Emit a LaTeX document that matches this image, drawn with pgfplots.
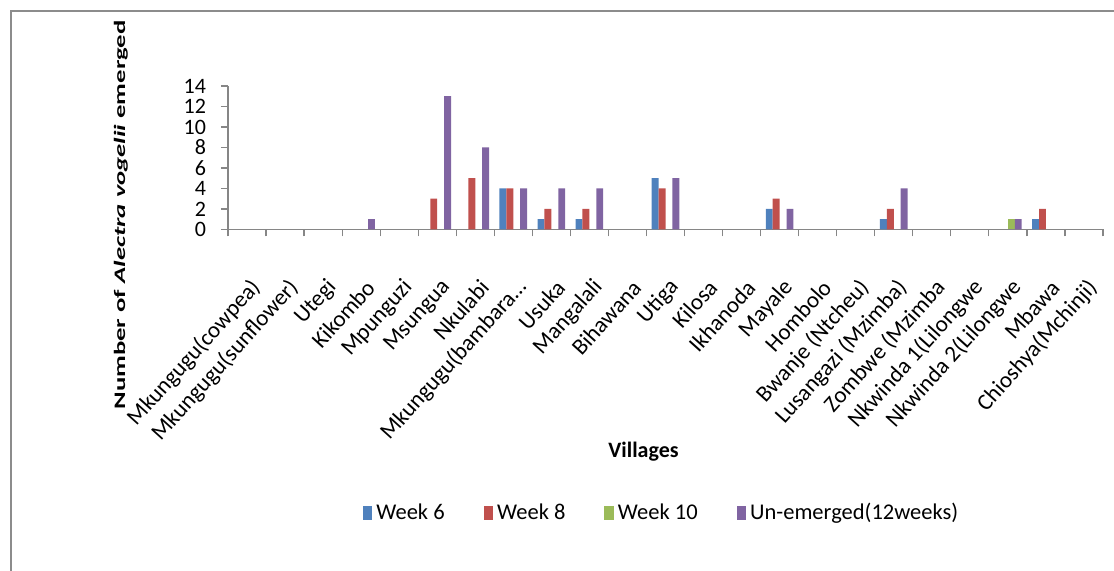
\documentclass[border=0pt]{standalone}
\usepackage{pgfplots}
\pgfplotsset{compat=1.18}
\usepackage{fontspec}
\setmainfont{Carlito}
\usepackage{graphicx}
\definecolor{cA}{HTML}{4F81BD}
\definecolor{cB}{HTML}{C0504D}
\definecolor{cC}{HTML}{9BBB59}
\definecolor{cD}{HTML}{8064A2}
\definecolor{axgray}{HTML}{868686}
\definecolor{framegray}{HTML}{8C8C8C}
\begin{document}
\begin{tikzpicture}
\path[use as bounding box] (0,0) rectangle (557pt,285.5pt);
\draw[framegray, line width=1pt] (5.5pt,0pt) -- (5.5pt,280pt) -- (557pt,280pt);
\begin{axis}[
  at={(114pt,170.75pt)}, anchor=south west,
  scale only axis, width=437.5pt, height=71.75pt,
  xmin=-0.5, xmax=22.5, ymin=0, ymax=14,
  enlargelimits=false,
  ybar=0pt, bar width=3.458pt,
  axis lines=left,
  axis line style={-, draw=axgray, line width=0.6pt},
  tick align=outside,
  xtick={0,...,22},
  xticklabels={Mkungugu(cowpea),Mkungugu(sunflower),Utegi,Kikombo,Mpunguzi,Msungua,Nkulabi,Mkungugu(bambara\ldots,Usuka,Mangalali,Bihawana,Utiga,Kilosa,Ikhanoda,Mayale,Hombolo,Bwanje (Ntcheu),Lusangazi (Mzimba),Zombwe (Mzimba,Nkwinda 1(Lilongwe,Nkwinda 2(Lilongwe,Mbawa,Chioshya(Mchinji)},
  major x tick style={draw=none},
  minor xtick={-0.5,0.5,...,22.5},
  minor tick length=3.5pt,
  major tick length=3.5pt,
  ytick={0,2,...,14},
  every tick/.style={draw=axgray, line width=0.6pt},
  /pgf/number format/assume math mode=true,
  xticklabel style={font=\fontsize{11.5}{12}\selectfont, xshift=7pt, yshift=-21pt, rotate=48, anchor=east},
  yticklabel style={font=\fontsize{11}{11}\selectfont, xshift=-4pt},
  ylabel={\scalebox{1.67}[1]{\bfseries Number of \textit{Alectra vogelii} emerged}},
  ylabel style={at={(axis description cs:-0.1223,0.101)}, anchor=center, font=\fontsize{8}{9}\selectfont},
  xlabel={\bfseries Villages},
  xlabel style={at={(axis description cs:0.4749,-1.551)}, anchor=center, font=\fontsize{11}{12}\selectfont},
  legend columns=4,
  legend style={at={(axis description cs:0.4966,-1.976)}, anchor=center, draw=none, fill=none,
    font=\fontsize{11.25}{13}\selectfont,
    /tikz/every even column/.append style={column sep=17.5pt}},
]
\addplot[fill=cA, draw=none, legend image code/.code={\fill[cA] (0pt,-3.6pt) rectangle (4.75pt,3.6pt);}]
  coordinates {(7,4) (8,1) (9,1) (11,5) (14,2) (17,1) (21,1)};
\addplot[fill=cB, draw=none, legend image code/.code={\fill[cB] (0pt,-3.6pt) rectangle (4.75pt,3.6pt);}]
  coordinates {(5,3) (6,5) (7,4) (8,2) (9,2) (11,4) (14,3) (17,2) (21,2)};
\addplot[fill=cC, draw=none, legend image code/.code={\fill[cC] (0pt,-3.6pt) rectangle (4.75pt,3.6pt);}]
  coordinates {(20,1)};
\addplot[fill=cD, draw=none, legend image code/.code={\fill[cD] (0pt,-3.6pt) rectangle (4.75pt,3.6pt);}]
  coordinates {(3,1) (5,13) (6,8) (7,4) (8,4) (9,4) (11,5) (14,2) (17,4) (20,1)};
\legend{Week 6,Week 8,Week 10,Un-emerged(12weeks)}
\end{axis}
\end{tikzpicture}
\end{document}
